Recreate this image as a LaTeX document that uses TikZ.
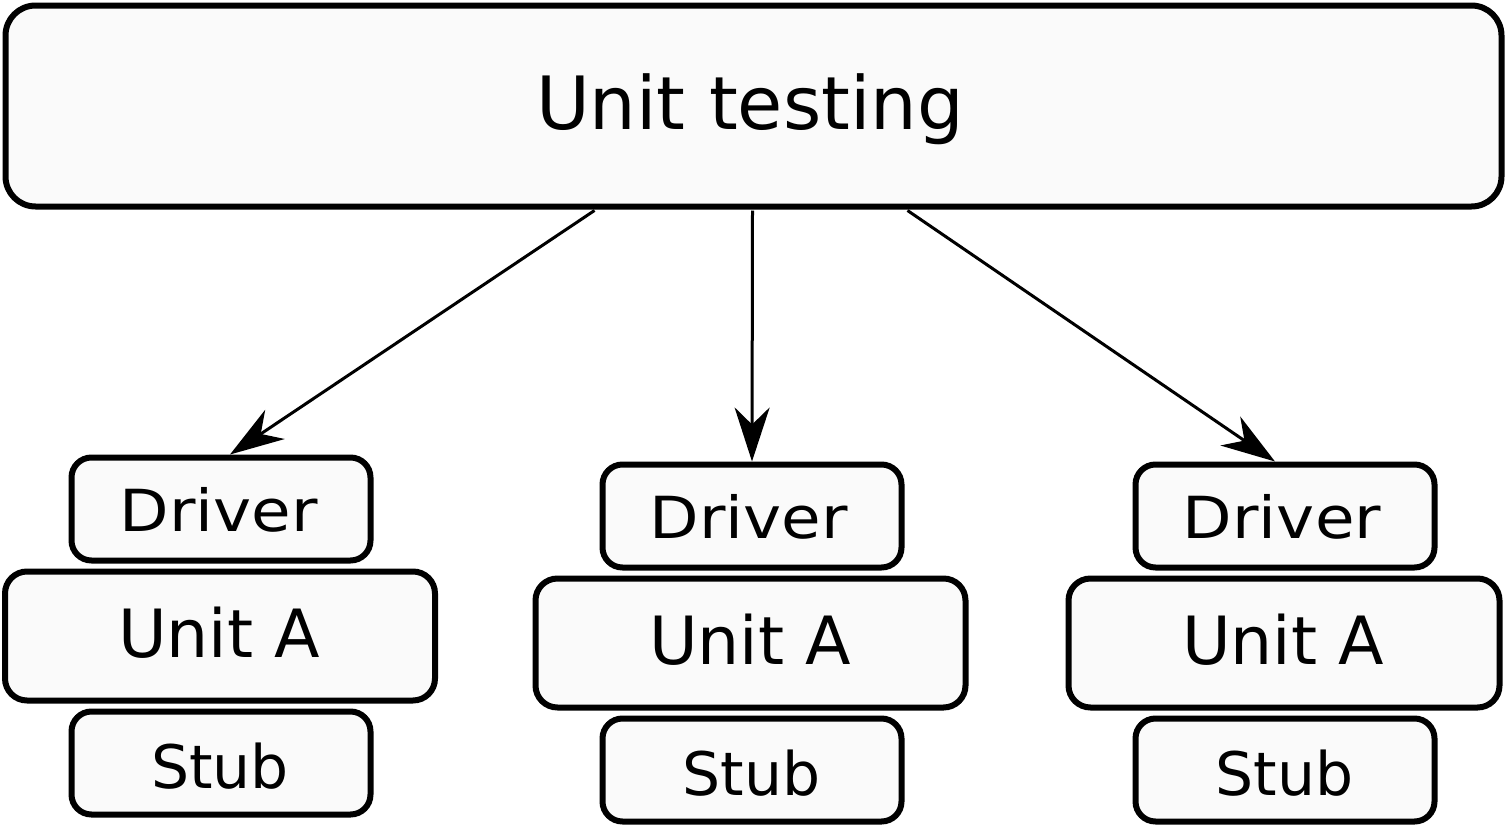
\documentclass[tikz,border=0pt]{standalone}
\usepackage{fontspec}
\setmainfont{DejaVu Sans}
\usetikzlibrary{arrows.meta,calc}
\tikzset{
  box/.style={draw=black, fill=boxfill, line width=6pt, inner sep=0pt},
  bigbox/.style={box, rounded corners=30pt, minimum width=1496pt, minimum height=201pt},
  smallbox/.style={box, rounded corners=20pt, minimum width=299pt, minimum height=103pt},
  unitbox/.style={box, rounded corners=22pt, minimum width=430pt, minimum height=129pt},
  lbl/.style={anchor=base, inner sep=0pt, text=black},
  titletxt/.style={lbl, font=\fontsize{73.5}{78}\selectfont},
  drvtxt/.style={lbl, font=\fontsize{58}{62}\selectfont},
  unittxt/.style={lbl, font=\fontsize{66.5}{70}\selectfont},
  stubtxt/.style={lbl, font=\fontsize{60}{64}\selectfont},
  conn/.style={line width=3pt, -{Stealth[length=54pt, width=35pt, inset=17pt]}}
}
\definecolor{boxfill}{HTML}{FAFAFA}
\begin{document}
\begin{tikzpicture}[x=1pt, y=-1pt]
\useasboundingbox (0,0) rectangle (1507,827);
\fill[white] (0,0) rectangle (1507,827);
% top box
\node[bigbox] (top) at (753.5,106) {};
\node[titletxt] (ttop) at (750,129) {Unit testing};
% group 1
\node[smallbox] (d1) at (221,509) {};
\node[unitbox] (u1) at (220,636) {};
\node[smallbox] (s1) at (221,763) {};
\node[drvtxt] (td1) at (219,531) {\scalebox{1.11}[1]{Driver}};
\node[unittxt] (tu1) at (219,657) {Unit A};
\node[stubtxt] (ts1) at (220,788) {Stub};
% group 2
\node[smallbox] (d2) at (752,516) {};
\node[unitbox] (u2) at (750.5,643) {};
\node[smallbox] (s2) at (752,770) {};
\node[drvtxt] (td2) at (749,538) {\scalebox{1.11}[1]{Driver}};
\node[unittxt] (tu2) at (750,664) {Unit A};
\node[stubtxt] (ts2) at (751.5,795) {Stub};
% group 3
\node[smallbox] (d3) at (1285,516) {};
\node[unitbox, minimum width=431pt] (u3) at (1284,643) {};
\node[smallbox] (s3) at (1285,770) {};
\node[drvtxt] (td3) at (1282,538) {\scalebox{1.11}[1]{Driver}};
\node[unittxt] (tu3) at (1283,664) {Unit A};
\node[stubtxt] (ts3) at (1284.5,795) {Stub};
% connectors
\draw[conn] ($(top.south west)+(592,1)$) -- ($(d1.north)+(9,0)$);
\draw[conn] ($(top.south west)+(750,1)$) -- (d2.north);
\draw[conn] ($(top.south west)+(905,1)$) -- ($(d3.north)+(-10,0)$);
\end{tikzpicture}
\end{document}
